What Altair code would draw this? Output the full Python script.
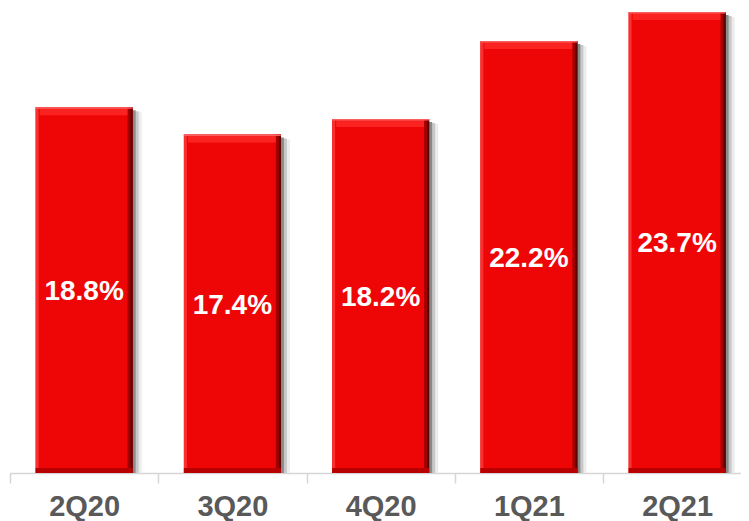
import altair as alt
import pandas as pd

quarters = ["2Q20", "3Q20", "4Q20", "1Q21", "2Q21"]
values = [18.8, 17.4, 18.2, 22.2, 23.7]
labels = ["18.8%", "17.4%", "18.2%", "22.2%", "23.7%"]

df = pd.DataFrame({"q": quarters, "v": values, "label": labels})
df["mid"] = df["v"] / 2
df["zero"] = 0.0

BW = 97
x = alt.X("q:N", sort=quarters, title=None,
          scale=alt.Scale(range=[0, 741.25], paddingInner=0, paddingOuter=0),
          axis=alt.Axis(labelAngle=0, labelFont="Liberation Sans", labelFontSize=29,
                        labelFontWeight="bold", labelColor="#595959", labelPadding=9,
                        domainColor="#d6d6d6", domainWidth=1.5, tickColor="#d6d6d6",
                        tickWidth=1.5, tickSize=10, tickBand="extent", grid=False))
yscale = alt.Scale(domain=[0, 23.9], nice=False)
y = alt.Y("v:Q", scale=yscale, axis=None)
y0 = alt.Y("zero:Q", scale=yscale, axis=None)

base = alt.Chart(df)

shadow3 = base.mark_bar(width=BW, xOffset=9, yOffset=5, color="#ececec").encode(x=x, y=y, y2="zero:Q")
shadow2 = base.mark_bar(width=BW, xOffset=6, yOffset=4, color="#c8c8c8").encode(x=x, y=y, y2="zero:Q")
shadow1 = base.mark_bar(width=BW, xOffset=3, yOffset=3, color="#8a8a8a").encode(x=x, y=y, y2="zero:Q")
bar = base.mark_bar(width=BW, color="#ee0606").encode(x=x, y=y, y2="zero:Q")
top_strip = base.mark_bar(width=BW - 8, y2Offset=8, color="#fb2222").encode(x=x, y=y, y2="v:Q")
top_line = base.mark_bar(width=BW, y2Offset=1.5, color="#f86060").encode(x=x, y=y, y2="v:Q")
right_strip = base.mark_bar(width=5, xOffset=BW / 2 - 2.5, color="#a00000").encode(x=x, y=y, y2="zero:Q")
right_edge = base.mark_bar(width=2, xOffset=BW / 2 - 1, color="#5a0000").encode(x=x, y=y, y2="zero:Q")
bottom_strip = base.mark_bar(width=BW, yOffset=-5, color="#b80000").encode(x=x, y=y0, y2="zero:Q")
left_strip = base.mark_bar(width=3, xOffset=-BW / 2 + 1.5, color="#f83030").encode(x=x, y=y, y2="zero:Q")
text = base.mark_text(font="Liberation Sans", fontSize=28, fontWeight="bold", color="white",
                      baseline="middle", dy=2).encode(
    x=x, y=alt.Y("mid:Q", scale=yscale, axis=None), text="label:N")

chart = alt.layer(shadow3, shadow2, shadow1, bar, top_strip, left_strip, right_strip, right_edge,
                  bottom_strip, top_line, text).properties(
    width=731, height=465,
    autosize=alt.AutoSizeParams(type="none"),
    padding={"left": 2, "top": 0, "right": 0, "bottom": 48},
).configure(background="white").configure_view(stroke=None)

chart.save("out.html", embed_options={"renderer": "svg", "actions": False})
